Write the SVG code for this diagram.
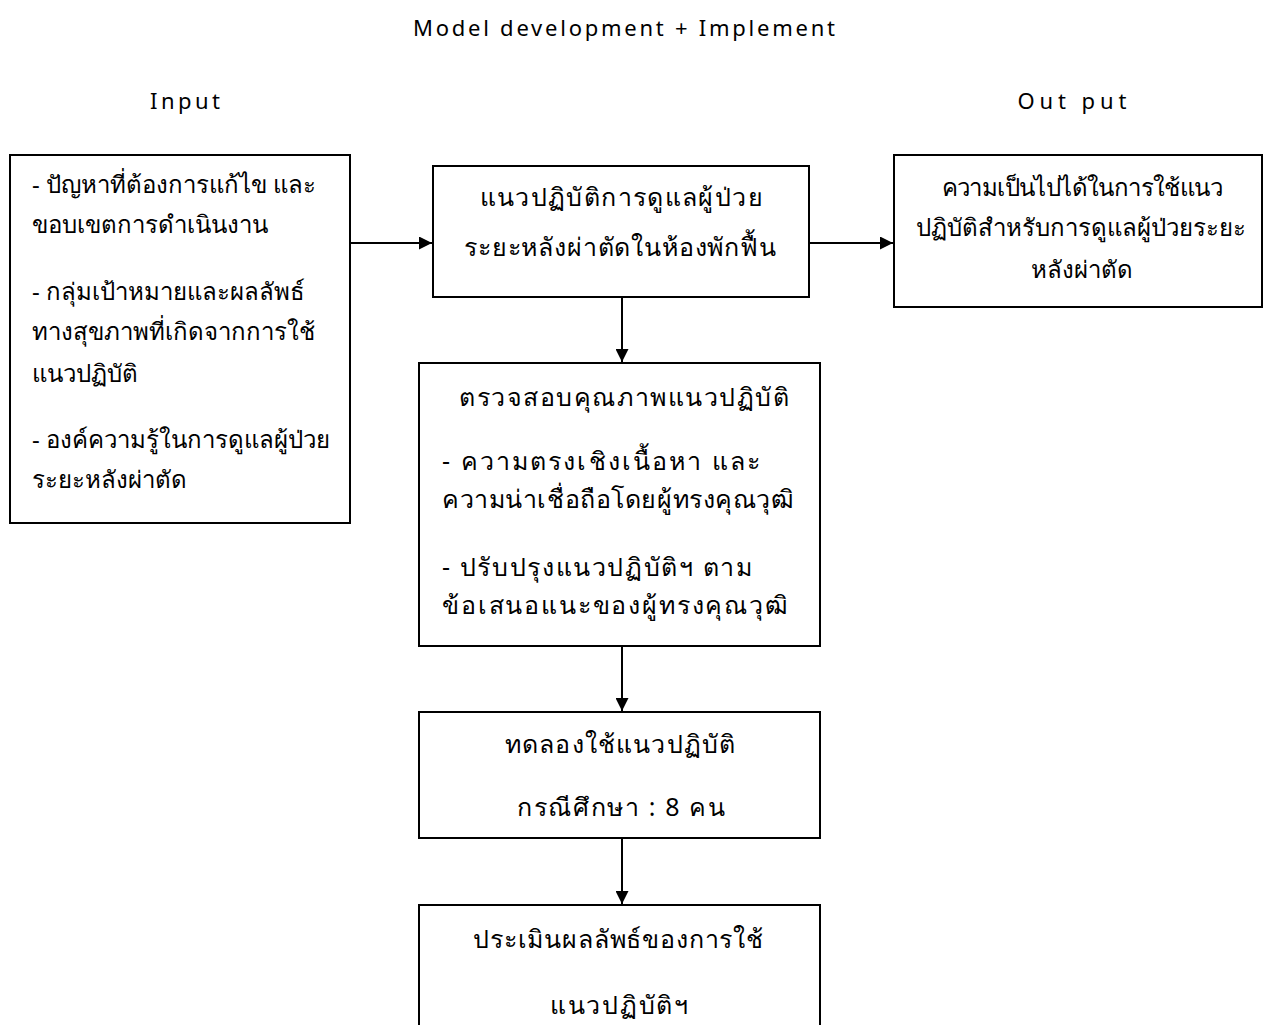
<svg xmlns="http://www.w3.org/2000/svg" width="1271" height="1025" viewBox="0 0 1271 1025">
<defs>
<style>
text{font-family:"Noto Sans","DejaVu Sans",sans-serif;fill:#000;}
.h{font-size:22px;}
.t{font-size:24px;}
.u{font-size:25px;}
.box{fill:#fff;stroke:#000;stroke-width:2;}
.c{stroke:#000;stroke-width:2;fill:none;}
.m{text-anchor:middle;}
</style>
<marker id="ah" viewBox="0 0 10 10" refX="10" refY="5" markerWidth="13" markerHeight="13" markerUnits="userSpaceOnUse" orient="auto"><path d="M0,0 L10,5 L0,10 z" fill="#000"/></marker>
</defs>
<rect width="1271" height="1025" fill="#fff"/>
<text class="h m" x="624" y="36" textLength="422" lengthAdjust="spacing">Model development + Implement</text>
<text class="h m" x="185" y="109" textLength="70" lengthAdjust="spacing">Input</text>
<text class="h m" x="1072" y="109" textLength="109" lengthAdjust="spacing">Out put</text>
<g id="connectors">
<line class="c" x1="350" y1="243" x2="432" y2="243" marker-end="url(#ah)"/>
<line class="c" x1="809" y1="243" x2="893" y2="243" marker-end="url(#ah)"/>
<line class="c" x1="622" y1="297" x2="622" y2="362" marker-end="url(#ah)"/>
<line class="c" x1="622" y1="646" x2="622" y2="711" marker-end="url(#ah)"/>
<line class="c" x1="622" y1="838" x2="622" y2="904" marker-end="url(#ah)"/>
</g>
<g id="input">
<rect class="box" x="10" y="155" width="340" height="368"/>
<text class="t" x="32" y="193">- ปัญหาที่ต้องการแก้ไข และ</text>
<text class="t" x="32" y="233">ขอบเขตการดำเนินงาน</text>
<text class="t" x="32" y="300">- กลุ่มเป้าหมายและผลลัพธ์</text>
<text class="t" x="32" y="340">ทางสุขภาพที่เกิดจากการใช้</text>
<text class="t" x="32" y="382">แนวปฏิบัติ</text>
<text class="t" x="32" y="448">- องค์ความรู้ในการดูแลผู้ป่วย</text>
<text class="t" x="32" y="488">ระยะหลังผ่าตัด</text>
</g>
<g id="guideline">
<rect class="box" x="433" y="166" width="376" height="131"/>
<text class="u m" x="621" y="206" textLength="283" lengthAdjust="spacing">แนวปฏิบัติการดูแลผู้ป่วย</text>
<text class="u m" x="620" y="256" textLength="312" lengthAdjust="spacing">ระยะหลังผ่าตัดในห้องพักฟื้น</text>
</g>
<g id="output">
<rect class="box" x="894" y="155" width="368" height="152"/>
<text class="t m" x="1082" y="196" textLength="281" lengthAdjust="spacing">ความเป็นไปได้ในการใช้แนว</text>
<text class="t m" x="1081" y="236">ปฏิบัติสำหรับการดูแลผู้ป่วยระยะ</text>
<text class="t m" x="1082" y="278">หลังผ่าตัด</text>
</g>
<g id="quality">
<rect class="box" x="419" y="363" width="401" height="283"/>
<text class="u m" x="624" y="406" textLength="330" lengthAdjust="spacing">ตรวจสอบคุณภาพแนวปฏิบัติ</text>
<text class="u" x="442" y="470" textLength="318" lengthAdjust="spacing">- ความตรงเชิงเนื้อหา และ</text>
<text class="u" x="442" y="508" textLength="352" lengthAdjust="spacing">ความน่าเชื่อถือโดยผู้ทรงคุณวุฒิ</text>
<text class="u" x="442" y="576" textLength="310" lengthAdjust="spacing">- ปรับปรุงแนวปฏิบัติฯ ตาม</text>
<text class="u" x="442" y="614" textLength="346" lengthAdjust="spacing">ข้อเสนอแนะของผู้ทรงคุณวุฒิ</text>
</g>
<g id="trial">
<rect class="box" x="419" y="712" width="401" height="126"/>
<text class="u m" x="620" y="753" textLength="230" lengthAdjust="spacing">ทดลองใช้แนวปฏิบัติ</text>
<text class="u m" x="621" y="816" textLength="208" lengthAdjust="spacing">กรณีศึกษา : 8 คน</text>
</g>
<g id="evaluate">
<rect class="box" x="419" y="905" width="401" height="140"/>
<text class="u m" x="618" y="948" textLength="290" lengthAdjust="spacing">ประเมินผลลัพธ์ของการใช้</text>
<text class="u m" x="619" y="1014" textLength="138" lengthAdjust="spacing">แนวปฏิบัติฯ</text>
</g>
</svg>
